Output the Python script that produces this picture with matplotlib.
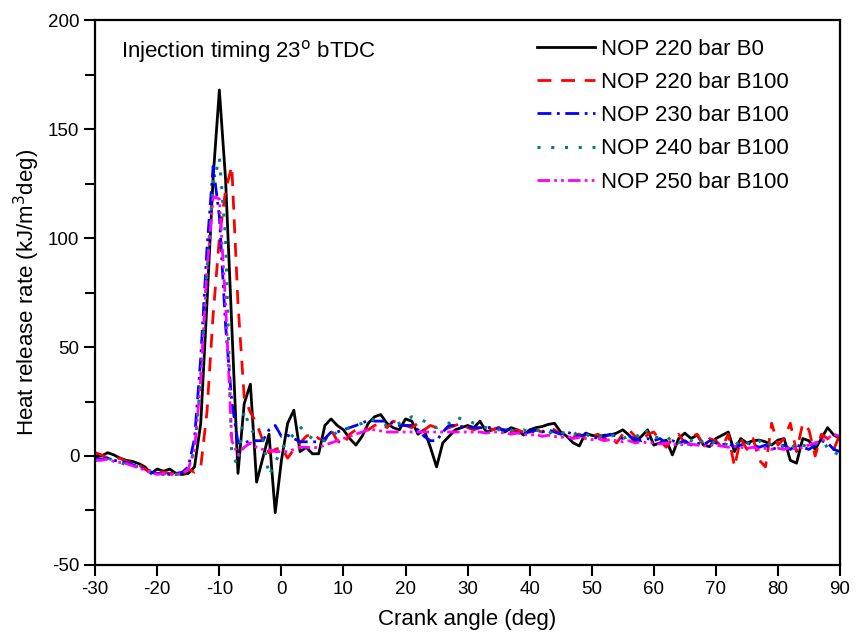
import numpy as np
import matplotlib
matplotlib.use("Agg")
import matplotlib.pyplot as plt
from matplotlib.ticker import MultipleLocator

plt.rcParams['font.family'] = ['Liberation Sans', 'DejaVu Sans']
plt.rcParams['axes.unicode_minus'] = False

crank_angle = list(range(-30, 91))

nop220_b0 = [
    0, 0, 1.5, 0.5, -1, -2, -2.5, -3.5, -5, -8,            # -30..-21
    -6, -7, -6, -8, -8.5, -8, -5, 15, 70, 128,             # -20..-11
    168, 127, 60, -8, 24, 33, -12, -1, 10, -26,            # -10..-1
    -2, 15, 21, 2, 4, 1, 1, 14, 17, 14,                    # 0..9
    12, 8, 5, 9, 15, 18, 19, 15, 13, 12,                   # 10..19
    17, 16, 10, 12, 4, -5, 6, 9, 12, 13,                   # 20..29
    14, 13, 16, 11, 12, 13, 11, 13, 12, 9.6,               # 30..39
    12, 13, 13.5, 14.5, 15, 11, 9, 6, 4.6, 10.5,           # 40..49
    9.5, 9, 9.5, 9.6, 10.5, 12, 9.6, 6.5, 9, 12,           # 50..59
    5, 6, 7.3, 0.5, 8, 10.5, 8, 9.6, 5, 4.3,               # 60..69
    8, 9.5, 11, 2, 8, 6, 7, 7.3, 6.5, 5,                   # 70..79
    7.3, 8, -2, -3.3, 8, 7, 3, 8, 13, 9.6,                 # 80..89
    8,                                                     # 90
]

nop220_b100 = [
    1.5, 0.5, -1, -1.5, -1, -2.5, -3, -4, -6, -8,          # -30..-21
    -7, -7.5, -8, -8, -8.5, -6, -7.5, -5, 20, 65,          # -20..-11
    100, 122, 133, 70, 27, 20, 15, 7, 1.4, 3,              # -10..-1
    4, -1, 3, 6, 9, 10.5, 8, 7, 12, 7,                     # 0..9
    5, 10, 12, 13, 12, 14, 15, 13, 16, 15,                 # 10..19
    14, 13, 15, 12, 14, 13, 12, 13, 14, 15,                # 20..29
    13, 12, 13, 14, 12, 13, 12, 11, 12, 11,                # 30..39
    10, 12, 11, 13, 12, 10, 11, 9, 10, 8,                  # 40..49
    9, 10, 8, 9, 6, 10, 12, 9, 6, 10,                      # 50..59
    11, 7, 4, 8, 10, 6, 9, 10, 5, 8,                       # 60..69
    7, 4, 10, -5, 8, 3, 8, -2, -5, 15,                     # 70..79
    5, 8, 15, 2, 15, 12, 0, 10, 8, 3,                      # 80..89
    10,                                                    # 90
]

nop230_b100 = [
    -1, -1.5, -1, -2, -2.5, -3, -4, -5, -6, -7.5,          # -30..-21
    -8, -8, -8.5, -8, -7.5, -5, 8, 45, 95, 133,            # -20..-11
    110, 60, 25, 6, 6, 7, 7, 7, 12, 14,                    # -10..-1
    9, 9.5, 8, 6.5, 6.5, 6.5, 6.5, 8, 11, 11,              # 0..9
    12, 13, 14, 15, 16.5, 16, 16, 16, 15, 14,              # 10..19
    14, 14, 12, 9, 7, 7, 11, 14, 14, 13.5,                 # 20..29
    13.5, 13, 13, 13, 13, 12.5, 12, 12, 11, 10.5,          # 30..39
    11, 12, 11, 12, 11, 10, 11, 10, 9, 10,                 # 40..49
    9, 8, 9, 10, 9, 8, 9, 8, 7, 8,                         # 50..59
    7, 8, 6, 7, 6, 7, 5, 6, 5, 7,                          # 60..69
    6, 5, 6, 4, 5, 6, 5, 4, 5, 3,                          # 70..79
    4, 5, 3, 5, 4, 3, 5, 7, 6, 3,                          # 80..89
    2,                                                     # 90
]

nop240_b100 = [
    -2, -1.5, -1, -2, -3, -4, -4.5, -5, -6, -7,            # -30..-21
    -8, -8.5, -8, -8.5, -8, -6, 3, 35, 85, 125,            # -20..-11
    137, 100, 0, -4, 21, 12, 10, 8, -9, -3,                # -10..-1
    3, 7, 10, 13.5, 10, 8, 7, 7, 9, 11,                    # 0..9
    12, 13, 14, 15, 17, 16.5, 15, 14, 14, 15,              # 10..19
    16, 18, 17, 16, 14, 13, 14, 15, 18, 17,                # 20..29
    16.5, 15, 14, 13, 12, 12, 13, 12, 11, 12,              # 30..39
    11, 12, 11, 10, 12, 11, 10, 11, 9, 10,                 # 40..49
    9, 10, 8, 9, 10, 8, 9, 10, 8, 12,                      # 50..59
    9, 8, 7, 9, 6, 8, 7, 9, 6, 5,                          # 60..69
    7, 6, 5, 7, 4, 6, 5, 7, 4, 6,                          # 70..79
    5, 4, 6, 3, 5, 4, 6, 3, 5, 2,                          # 80..89
    0,                                                     # 90
]

nop250_b100 = [
    -2, -2, -1.5, -2.5, -3, -3.5, -4.5, -5.5, -6.5, -7.5,  # -30..-21
    -8.5, -8, -8.5, -8.5, -8, -6, 3, 35, 85, 119,          # -20..-11
    118, 70, 7, 0.5, 4, 6, 4, 3, 2.8, 2,                   # -10..-1
    2, 2, 3, 4, 4, 3.7, 4, 5, 6, 7,                        # 0..9
    8, 9, 10, 11, 12, 12, 11.5, 11, 11, 11,                # 10..19
    11, 11, 11, 11, 11, 11, 11, 11, 11, 11,                # 20..29
    11, 11, 11, 10.5, 11, 11, 10.5, 10, 10.5, 10,          # 30..39
    9.5, 10, 9, 9.5, 9, 8.5, 9, 8, 8.5, 8,                 # 40..49
    7.5, 8, 7, 7.5, 7, 6.5, 7, 6, 6.5, 6,                  # 50..59
    6, 5.5, 6, 5, 5.5, 5, 5.5, 5, 4.5, 5,                  # 60..69
    5, 4.5, 4, 4.5, 4, 3.5, 4, 3, 3.5, 3,                  # 70..79
    3.5, 3, 4, 3, 4, 5, 6, 7, 8, 10,                       # 80..89
    9,                                                     # 90
]

series_labels = ["NOP 220 bar B0", "NOP 220 bar B100", "NOP 230 bar B100",
                 "NOP 240 bar B100", "NOP 250 bar B100"]
x_ticks = [-30, -20, -10, 0, 10, 20, 30, 40, 50, 60, 70, 80, 90]
y_ticks = [-50, 0, 50, 100, 150, 200]

fig = plt.figure(figsize=(8.58, 6.34), dpi=100)
ax = fig.add_axes([0.111, 0.109, 0.868, 0.859])

styles = [
    dict(color='black', linestyle='-', lw=2.0),
    dict(color='#ff0000', linestyle=(0, (5, 3.5)), lw=2.0),
    dict(color='#0000ff', linestyle=(0, (5, 2, 1, 2)), lw=2.0),
    dict(color='#008080', linestyle=(0, (1, 3.5)), lw=2.2),
    dict(color='#ff00ff', linestyle=(0, (4.5, 1.5, 1, 1.5, 1, 1.5)), lw=2.0),
]
data = [nop220_b0, nop220_b100, nop230_b100, nop240_b100, nop250_b100]
for d, lab, st in zip(data, series_labels, styles):
    ax.plot(crank_angle, d, label=lab, **st)

ax.set_xlim(-30, 90)
ax.set_ylim(-50, 200)
ax.set_xticks(x_ticks)
ax.set_yticks(y_ticks)
ax.yaxis.set_minor_locator(MultipleLocator(25))
ax.tick_params(axis='both', which='major', direction='out', length=8, width=1.5,
               labelsize=13.5, top=False, right=False)
ax.tick_params(axis='y', which='minor', direction='out', length=7, width=1.5)
for s in ax.spines.values():
    s.set_linewidth(1.6)

ax.set_xlabel("Crank angle (deg)", fontsize=16, labelpad=8)
ax.set_ylabel("Heat release rate (kJ/m$^3$deg)", fontsize=16, labelpad=4)

ax.text(0.034, 0.942, "Injection timing 23$^{\\rm o}$ bTDC", transform=ax.transAxes,
        fontsize=16, ha='left', va='center')

leg = ax.legend(loc='upper left', frameon=False, fontsize=16, handlelength=2.6,
                handletextpad=0.3, labelspacing=0.55, borderaxespad=0.0,
                borderpad=0.0, bbox_to_anchor=(0.593, 0.966))

fig.savefig("out.png", dpi=100)
